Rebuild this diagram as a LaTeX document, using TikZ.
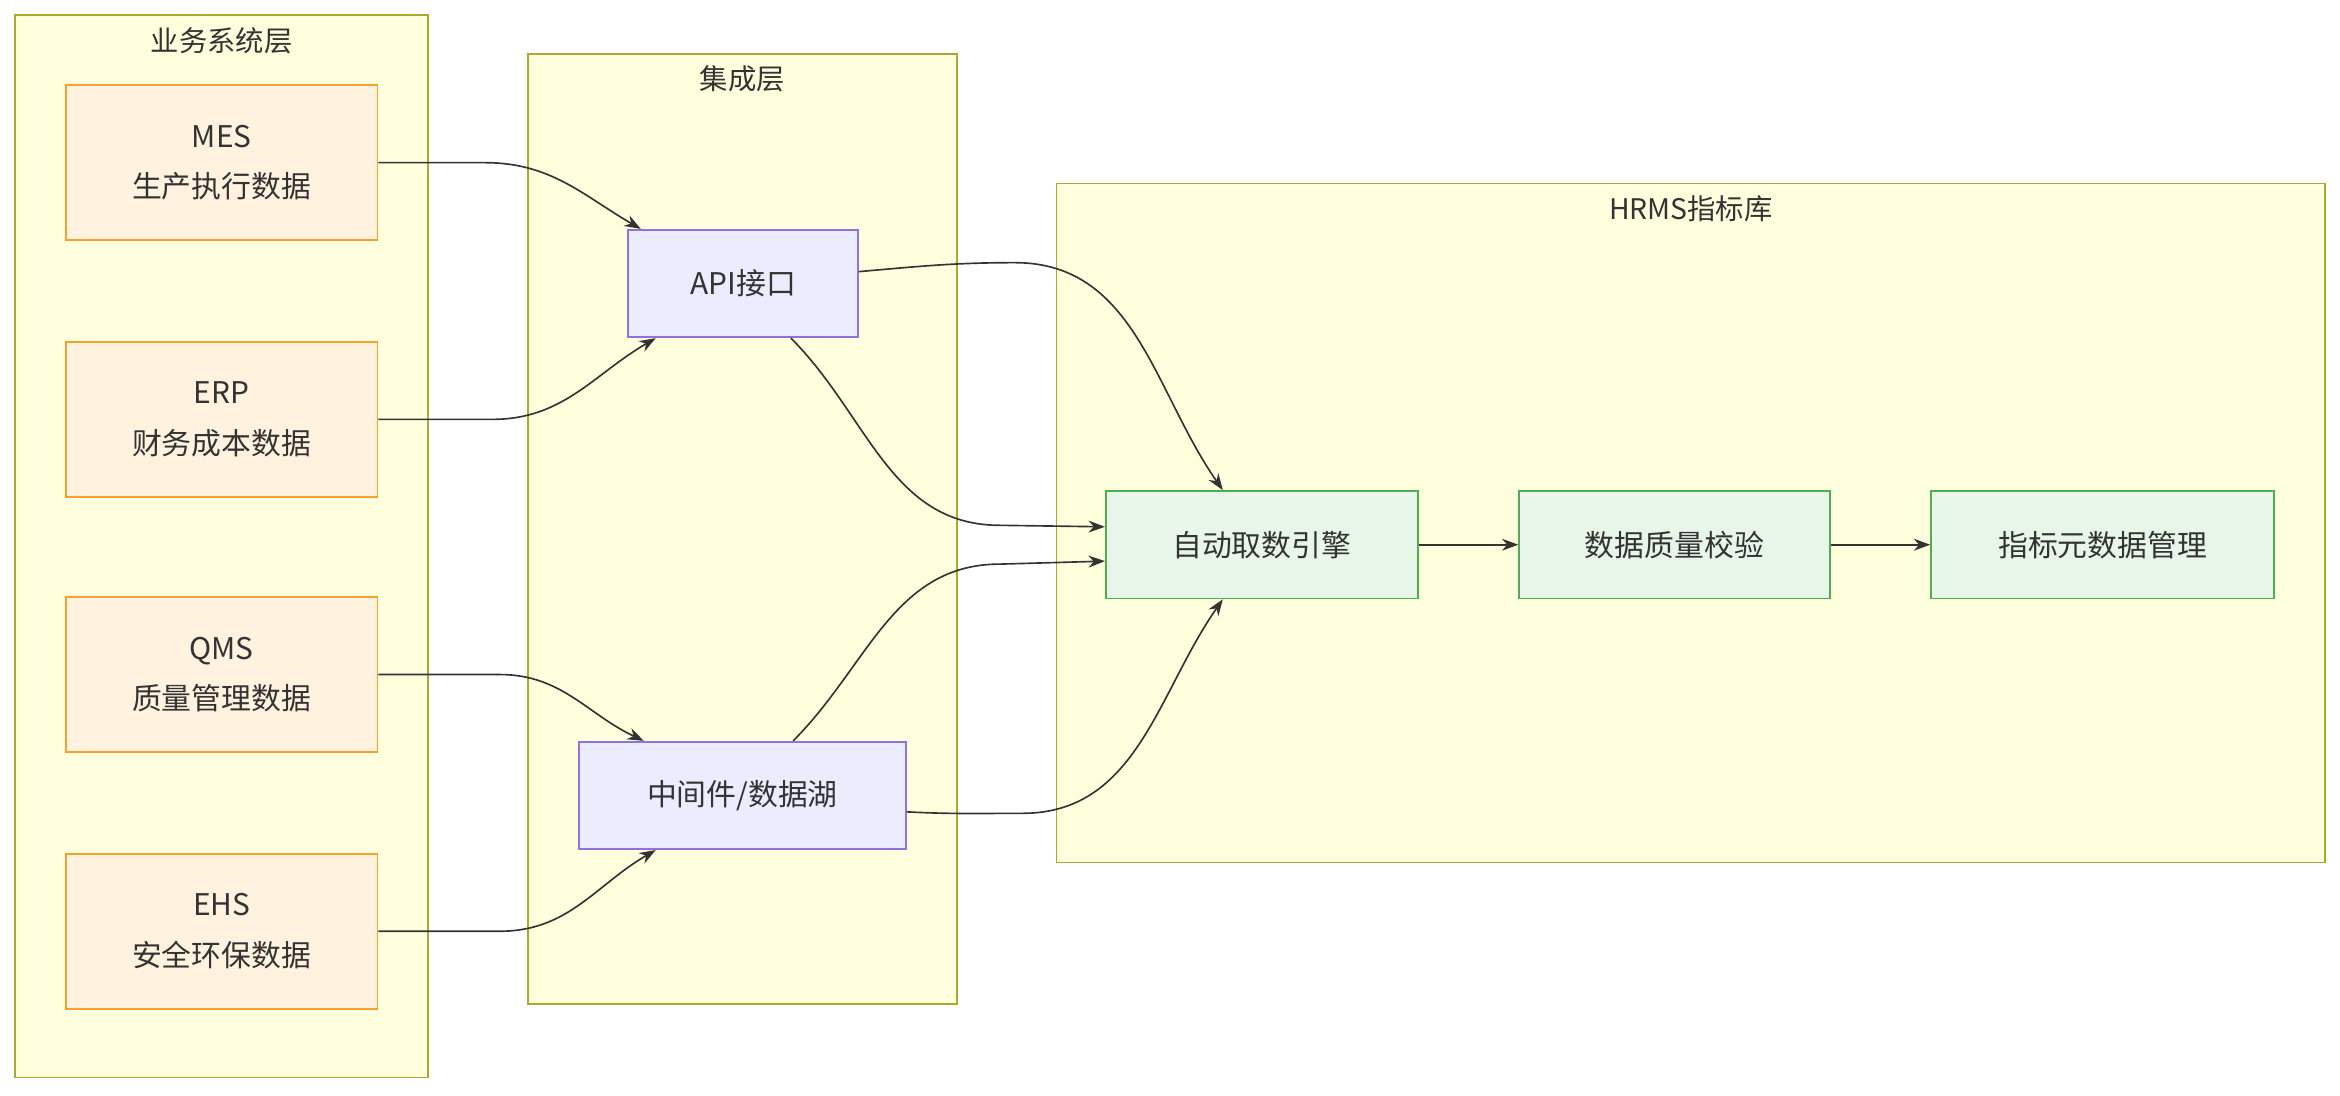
\documentclass[tikz,border=0pt]{standalone}
\usepackage{fontspec}
\setmainfont{Noto Sans CJK SC}
\usetikzlibrary{arrows.meta}
\definecolor{clf}{HTML}{FFFFDE}\definecolor{cls}{HTML}{AAAA33}
\definecolor{of}{HTML}{FFF3E0}\definecolor{os}{HTML}{F5A030}
\definecolor{pf}{HTML}{ECECFF}\definecolor{ps}{HTML}{9370DB}
\definecolor{gf}{HTML}{E8F5E9}\definecolor{gs}{HTML}{4CAF50}
\definecolor{ln}{HTML}{333333}
\begin{document}
\begin{tikzpicture}[x=1pt,y=-1pt,
 cl/.style={draw=cls,fill=clf,line width=1.2pt},
 tt/.style={font=\fontsize{19}{22}\selectfont,text=ln},
 bx/.style={minimum width=#1,minimum height=72pt,inner sep=0pt,line width=1.2pt,font=\fontsize{20}{34}\selectfont,text=ln,align=center},
 ob/.style={bx=209pt,draw=os,fill=of,minimum height=104pt},
 pb/.style={draw=ps,fill=pf},
 gb/.style={draw=gs,fill=gf},
 ar/.style={draw=ln,line width=1.1pt,-{Stealth[length=11pt,width=8pt]}}]
\useasboundingbox (0,0) rectangle (1568,734);
\fill[white] (0,0) rectangle (1568,734);
\draw[cl] (10,10) rectangle (287,722);
\node[tt] (t1) at (148.5,27) {业务系统层};
\draw[cl] (354,36) rectangle (641,673);
\node[tt] (t2) at (497.5,53) {集成层};
\draw[cl] (708,123) rectangle (1558,578);
\node[tt] (t3) at (1133,140) {HRMS指标库};
\node[ob] (mes) at (148.5,109) {MES\\生产执行数据};
\node[ob] (erp) at (148.5,281) {ERP\\财务成本数据};
\node[ob] (qms) at (148.5,452) {QMS\\质量管理数据};
\node[ob] (ehs) at (148.5,624) {EHS\\安全环保数据};
\node[bx=154pt,pb] (api) at (498,190) {API接口};
\node[bx=219pt,pb] (mid) at (497.5,533) {中间件/数据湖};
\node[bx=209pt,gb] (eng) at (845.5,365) {自动取数引擎};
\node[bx=208pt,gb] (dq) at (1122,365) {数据质量校验};
\node[bx=230pt,gb] (meta) at (1409,365) {指标元数据管理};
\draw[ar] (mes.east) -- (325,109) to[out=0,in=150] ([xshift=9pt]api.north west);
\draw[ar] (erp.east) -- (330,281) to[out=0,in=210] ([xshift=19pt]api.south west);
\draw[ar] (qms.east) -- (335,452) to[out=0,in=155] ([xshift=44pt]mid.north west);
\draw[ar] (ehs.east) -- (335,624) to[out=0,in=210] ([xshift=52pt]mid.south west);
\draw[ar] ([yshift=8pt]api.east) to[out=5,in=180] (680,176) to[out=0,in=125] ([xshift=79pt]eng.north west);
\draw[ar] ([xshift=32pt]api.south) to[out=-45,in=180] (670,352) -- ([yshift=12pt]eng.west);
\draw[ar] ([xshift=34pt]mid.north) to[out=45,in=180] (670,378) -- ([yshift=-11pt]eng.west);
\draw[ar] ([yshift=-11pt]mid.east) to[out=-3,in=180] (685,545) to[out=0,in=-125] ([xshift=79pt]eng.south west);
\draw[ar] (eng) -- (dq);
\draw[ar] (dq) -- (meta);
\end{tikzpicture}
\end{document}
